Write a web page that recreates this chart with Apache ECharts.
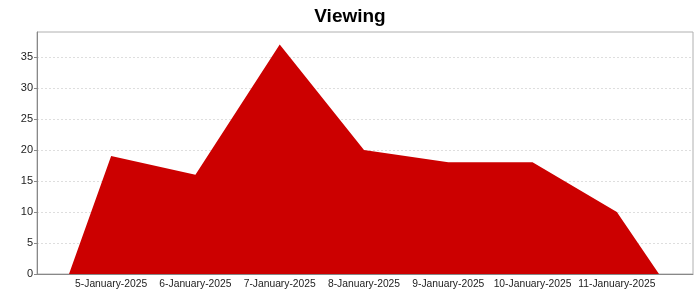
<!DOCTYPE html>
<html><head><meta charset="utf-8">
<script src="https://cdn.jsdelivr.net/npm/echarts@6/dist/echarts.min.js"></script>
<style>html,body{margin:0;padding:0;background:#fff}#c{width:700px;height:300px}</style>
</head><body><div id="c"></div>
<script>
const categories = ["5-January-2025","6-January-2025","7-January-2025","8-January-2025","9-January-2025","10-January-2025","11-January-2025"];
const values = [19, 16, 37, 20, 18, 18, 10];
const yTicks = [0, 5, 10, 15, 20, 25, 30, 35];

const areaData = [[-0.5, 0]].concat(values.map((v, i) => [i, v])).concat([[values.length - 0.5, 0]]);
const font = "'Liberation Sans', Arial, sans-serif";
const YMAX = 39;

const chart = echarts.init(document.getElementById('c'), null, {renderer: 'canvas'});
chart.setOption({
  animation: false,
  title: {text: 'Viewing', left: 'center', top: 2,
    textStyle: {fontFamily: font, fontSize: 19, fontWeight: 'bold', color: '#000'}},
  grid: [
    {left: 37, right: 7, top: 32, bottom: 26, show: true, borderColor: '#b0b0b0', borderWidth: 1, backgroundColor: '#fff'},
    {left: 69, right: 41, top: 32, bottom: 26}
  ],
  xAxis: [
    {gridIndex: 0, type: 'value', min: 0, max: 1, show: true, axisLine: {show: true, lineStyle: {color: '#888'}}, axisTick: {show: false}, axisLabel: {show: false}, splitLine: {show: false}},
    {gridIndex: 1, type: 'value', min: -0.5, max: values.length - 0.5, show: false},
    {gridIndex: 1, type: 'category', data: categories, boundaryGap: true, position: 'bottom',
      axisLine: {show: false}, axisTick: {show: false},
      axisLabel: {interval: 0, color: '#222', fontFamily: font, fontSize: 10.3, margin: 5}}
  ],
  yAxis: [
    {gridIndex: 0, type: 'value', min: 0, max: YMAX, interval: 5,
      axisLine: {show: true, lineStyle: {color: '#888'}},
      axisTick: {show: true, length: 3, lineStyle: {color: '#888'}, customValues: yTicks},
      axisLabel: {color: '#222', fontFamily: font, fontSize: 11, margin: 4, customValues: yTicks,
        formatter: v => yTicks.includes(v) ? String(v) : ''},
      splitLine: {show: true, lineStyle: {color: '#dedede', type: [2, 2]}}},
    {gridIndex: 1, type: 'value', min: 0, max: YMAX, show: false, splitLine: {show: false}}
  ],
  series: [{
    type: 'line', xAxisIndex: 1, yAxisIndex: 1, data: areaData,
    symbol: 'none', lineStyle: {width: 0}, areaStyle: {color: '#cc0000', opacity: 1}, z: 3
  }]
});
</script></body></html>
